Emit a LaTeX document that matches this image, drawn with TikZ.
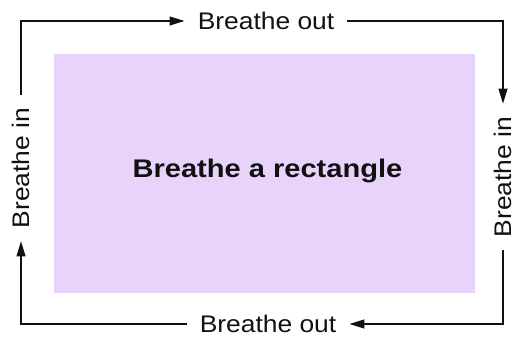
\documentclass[tikz,border=0pt]{standalone}
\usepackage{fontspec}
\setmainfont{Liberation Sans}[FakeStretch=1.1]
\newfontfamily\titlefont{Liberation Sans}[FakeStretch=1.14]
\usetikzlibrary{arrows.meta}
\definecolor{lav}{HTML}{E8D4FB}
\definecolor{ink}{HTML}{111111}
\tikzset{
  lbl/.style={inner xsep=13pt, inner ysep=0pt, font=\fontsize{24}{26}\selectfont, text=ink},
  arr/.style={draw=ink, line width=1.1pt, -{Triangle[length=15pt,width=9pt]}},
  box/.style={fill=lav, draw=none}
}
\begin{document}
\begin{tikzpicture}[x=1pt,y=1pt]
\useasboundingbox (0,0) rectangle (515,337);
\fill[box] (54,44) rectangle (475,283);
\node[anchor=base, text=ink, font=\titlefont\bfseries\fontsize{25.5}{28}\selectfont] (title) at (267.5,159) {Breathe a rectangle};
\node[lbl] (to) at (266,316) {Breathe out};
\node[lbl] (bo) at (268,13) {Breathe out};
\node[lbl, rotate=90] (li) at (21,169) {Breathe in};
\node[lbl, rotate=90] (ri) at (503,160) {Breathe in};
\draw[arr] (li.east) |- (to.west);
\draw[arr] (to.east) -| (ri.east);
\draw[arr] (ri.west) |- (bo.east);
\draw[arr] (bo.west) -| (li.west);
\end{tikzpicture}
\end{document}
